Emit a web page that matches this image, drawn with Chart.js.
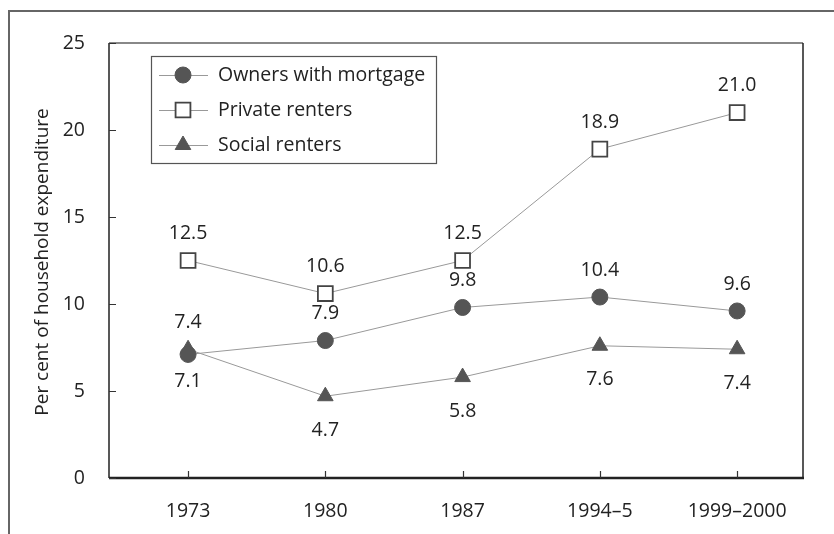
<!DOCTYPE html>
<html>
<head>
<meta charset="utf-8">
<script src="https://cdn.jsdelivr.net/npm/chart.js@4/dist/chart.umd.min.js"></script>
<style>
  html, body { margin: 0; padding: 0; background: #fff; }
  #wrap { width: 834px; height: 534px; position: relative; }
</style>
</head>
<body>
<div id="wrap"><canvas id="myChart" width="834" height="534"></canvas></div>
<script>
// data
var years = ['1973', '1980', '1987', '1994\u20135', '1999\u20132000'];
var owners = [7.1, 7.9, 9.8, 10.4, 9.6];
var privateRenters = [12.5, 10.6, 12.5, 18.9, 21.0];
var socialRenters = [7.4, 4.7, 5.8, 7.6, 7.4];
var yTicks = [0, 5, 10, 15, 20, 25];

var FONT = '"Open Sans", "Noto Sans", sans-serif';
var TEXT = '#222';
var FS = 19.5;

function toPoints(vals) {
    var pts = [];
    for (var i = 0; i < vals.length; i++) {
        pts.push({ x: i, y: vals[i] });
    }
    return pts;
}

// labels above or below the marker
function labelPos(dsIndex, i) {
    if (dsIndex === 1) return 'above';
    if (dsIndex === 0) return i === 0 ? 'below' : 'above';
    return i === 0 ? 'above' : 'below';
}

function drawMarker(ctx, style, r, x, y) {
    if (style === 'circle') {
        ctx.arc(x, y, r, 0, Math.PI * 2);
    } else if (style === 'rect') {
        var h = r * Math.SQRT1_2;
        ctx.rect(x - h, y - h, 2 * h, 2 * h);
    } else {
        ctx.moveTo(x, y - r);
        ctx.lineTo(x + r * 0.866, y + r * 0.5);
        ctx.lineTo(x - r * 0.866, y + r * 0.5);
        ctx.closePath();
    }
}

var decorations = {
    id: 'decorations',
    afterDraw: function (chart) {
        var ctx = chart.ctx;
        var a = chart.chartArea;
        var xs = chart.scales.x, ys = chart.scales.y;
        ctx.save();

        // outer frame (top + left)
        ctx.strokeStyle = '#666';
        ctx.lineWidth = 2;
        ctx.beginPath();
        ctx.moveTo(9, 534);
        ctx.lineTo(9, 11);
        ctx.lineTo(834, 11);
        ctx.stroke();

        // plot box
        ctx.strokeStyle = '#888';
        ctx.lineWidth = 2;
        ctx.beginPath();
        ctx.moveTo(a.left, a.top);
        ctx.lineTo(a.right, a.top);
        ctx.stroke();
        ctx.strokeStyle = '#222';
        ctx.lineWidth = 1.5;
        ctx.beginPath();
        ctx.moveTo(a.left, a.top);
        ctx.lineTo(a.left, a.bottom);
        ctx.moveTo(a.right, a.top);
        ctx.lineTo(a.right, a.bottom);
        ctx.stroke();
        ctx.lineWidth = 2.5;
        ctx.beginPath();
        ctx.moveTo(a.left, a.bottom);
        ctx.lineTo(a.right + 1, a.bottom);
        ctx.stroke();

        // inside ticks
        ctx.lineWidth = 1.2;
        ctx.strokeStyle = '#333';
        ctx.beginPath();
        for (var t = 0; t < yTicks.length; t++) {
            var py = Math.round(ys.getPixelForValue(yTicks[t])) + 0.5;
            ctx.moveTo(a.left, py);
            ctx.lineTo(a.left + 7, py);
        }
        for (var k = 0; k < years.length; k++) {
            var px = Math.round(xs.getPixelForValue(k)) + 0.5;
            ctx.moveTo(px, a.bottom);
            ctx.lineTo(px, a.bottom - 7);
        }
        ctx.stroke();

        // y title
        ctx.fillStyle = TEXT;
        ctx.font = '19px ' + FONT;
        ctx.textAlign = 'center';
        ctx.textBaseline = 'middle';
        ctx.save();
        ctx.translate(43, 262);
        ctx.rotate(-Math.PI / 2);
        ctx.fillText('Per cent of household expenditure', 0, 0);
        ctx.restore();

        // value labels
        ctx.font = FS + 'px ' + FONT;
        chart.data.datasets.forEach(function (ds, d) {
            var meta = chart.getDatasetMeta(d);
            meta.data.forEach(function (el, i) {
                var v = ds.data[i].y.toFixed(1);
                var pos = labelPos(d, i);
                var off = pos === 'above' ? -27 : (d === 2 ? 34 : 27);
                ctx.fillText(v, el.x, el.y + off);
            });
        });

        // legend
        var lx = 151, ly = 56, lw = 285, lh = 107;
        ctx.strokeStyle = '#555';
        ctx.lineWidth = 1.2;
        ctx.fillStyle = '#fff';
        ctx.fillRect(lx, ly, lw, lh);
        ctx.strokeRect(lx + 0.5, ly + 0.5, lw, lh);
        var rows = [75, 110, 145];
        chart.data.datasets.forEach(function (ds, d) {
            var ry = rows[d];
            ctx.strokeStyle = ds.borderColor;
            ctx.lineWidth = 1;
            ctx.beginPath();
            ctx.moveTo(159, ry + 0.5);
            ctx.lineTo(208, ry + 0.5);
            ctx.stroke();
            ctx.fillStyle = ds.pointBackgroundColor;
            ctx.strokeStyle = ds.pointBorderColor;
            ctx.lineWidth = ds.pointBorderWidth;
            ctx.beginPath();
            drawMarker(ctx, ds.pointStyle, ds.pointRadius, 183, ry);
            ctx.fill();
            ctx.stroke();
            ctx.fillStyle = TEXT;
            ctx.textAlign = 'left';
            ctx.fillText(ds.label, 218, ry);
        });

        ctx.restore();
    }
};

new Chart(document.getElementById('myChart'), {
    type: 'line',
    data: {
        datasets: [{
            label: 'Owners with mortgage',
            data: toPoints(owners),
            borderColor: '#999',
            borderWidth: 1,
            pointStyle: 'circle',
            pointRadius: 8,
            pointBackgroundColor: '#555',
            pointBorderColor: '#555',
            pointBorderWidth: 1
        }, {
            label: 'Private renters',
            data: toPoints(privateRenters),
            borderColor: '#999',
            borderWidth: 1,
            pointStyle: 'rect',
            pointRadius: 10.5,
            pointBackgroundColor: '#fff',
            pointBorderColor: '#444',
            pointBorderWidth: 1.8
        }, {
            label: 'Social renters',
            data: toPoints(socialRenters),
            borderColor: '#999',
            borderWidth: 1,
            pointStyle: 'triangle',
            pointRadius: 9,
            pointBackgroundColor: '#555',
            pointBorderColor: '#555',
            pointBorderWidth: 1
        }]
    },
    options: {
        responsive: false,
        animation: false,
        layout: { padding: { top: 43, right: 31, left: 0, bottom: 0 } },
        plugins: {
            legend: { display: false },
            tooltip: { enabled: false }
        },
        scales: {
            x: {
                type: 'linear',
                min: -0.576,
                max: 4.48,
                afterFit: function (s) { s.height = 56; },
                afterBuildTicks: function (s) {
                    s.ticks = years.map(function (y, i) { return { value: i }; });
                },
                grid: { display: false },
                border: { display: false },
                ticks: {
                    padding: 14,
                    color: TEXT,
                    font: { family: FONT, size: FS },
                    callback: function (v) { return years[v]; }
                }
            },
            y: {
                min: 0,
                max: 25,
                afterFit: function (s) { s.width = 109; },
                afterBuildTicks: function (s) {
                    s.ticks = yTicks.map(function (v) { return { value: v }; });
                },
                grid: { display: false },
                border: { display: false },
                ticks: {
                    padding: 16,
                    color: TEXT,
                    font: { family: FONT, size: FS }
                }
            }
        }
    },
    plugins: [decorations]
});
</script>
</body>
</html>
